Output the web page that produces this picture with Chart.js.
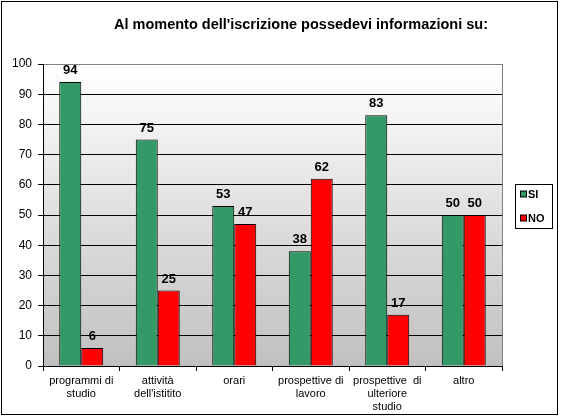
<!DOCTYPE html>
<html>
<head>
<meta charset="utf-8">
<script src="https://cdn.jsdelivr.net/npm/chart.js@4/dist/chart.umd.min.js"></script>
<style>
  html, body { margin: 0; padding: 0; background: #fff; }
  #wrap { width: 561px; height: 416px; position: relative; }
</style>
</head>
<body>
<div id="wrap"><canvas id="chart"></canvas></div>
<script>
const titleText = "Al momento dell'iscrizione possedevi informazioni su:";
const categories = [
  ["programmi di", "studio"],
  ["attività", "dell'istitito"],
  "orari",
  ["prospettive di", "lavoro"],
  ["prospettive  di", "ulteriore", "studio"],
  "altro"
];
const siValues = [94, 75, 53, 38, 83, 50];
const noValues = [6, 25, 47, 62, 17, 50];
const yTicks = [0, 10, 20, 30, 40, 50, 60, 70, 80, 90, 100];

const FONT = "'Liberation Sans', Arial, sans-serif";

// gradient plot background, frame, title, legend box, value labels
const decor = {
  id: "decor",
  beforeDraw(c) {
    const { ctx, chartArea: a } = c;
    ctx.save();
    const g = ctx.createLinearGradient(0, a.top, 0, a.bottom);
    g.addColorStop(0, "#ffffff");
    g.addColorStop(1, "#c0c0c0");
    ctx.fillStyle = g;
    ctx.fillRect(a.left, a.top, a.right - a.left, a.bottom - a.top);
    ctx.strokeStyle = "#808080";
    ctx.lineWidth = 1;
    ctx.beginPath();
    ctx.moveTo(a.right + 0.5, a.top);
    ctx.lineTo(a.right + 0.5, a.bottom);
    ctx.stroke();
    // outer frame
    ctx.strokeStyle = "#000";
    ctx.strokeRect(1.5, 1.5, 556, 413);
    // title
    ctx.fillStyle = "#000";
    ctx.font = "bold 14.5px " + FONT;
    ctx.textAlign = "center";
    ctx.textBaseline = "middle";
    ctx.fillText(titleText, 301, 25);
    ctx.restore();
  },
  afterDraw(c) {
    const { ctx } = c;
    ctx.save();
    ctx.strokeStyle = "#000";
    ctx.lineWidth = 1;
    ctx.strokeRect(515.5, 184.5, 37, 44);
    ctx.font = "bold 11px " + FONT;
    ctx.textAlign = "left";
    ctx.textBaseline = "middle";
    c.data.datasets.forEach((ds, i) => {
      const y = 194 + i * 24;
      ctx.fillStyle = ds.backgroundColor;
      ctx.fillRect(520.5, y - 3, 6, 6);
      ctx.strokeRect(520.5, y - 3, 6, 6);
      ctx.fillStyle = "#000";
      ctx.fillText(ds.label, 528, y + 0.5);
    });
    ctx.restore();
  },
  afterDatasetsDraw(c) {
    const { ctx } = c;
    ctx.save();
    ctx.fillStyle = "#000";
    ctx.font = "bold 13px " + FONT;
    ctx.textAlign = "center";
    ctx.textBaseline = "bottom";
    c.data.datasets.forEach((ds, i) => {
      c.getDatasetMeta(i).data.forEach((bar, j) => {
        ctx.fillText(ds.data[j], bar.x, bar.y - 5);
      });
    });
    ctx.restore();
  }
};

new Chart(document.getElementById("chart").getContext("2d"), {
  type: "bar",
  plugins: [decor],
  data: {
    labels: categories,
    datasets: [
      { label: "SI", data: siValues, backgroundColor: "#339966", borderColor: "#000", borderWidth: 1 },
      { label: "NO", data: noValues, backgroundColor: "#ff0000", borderColor: "#000", borderWidth: 1 }
    ]
  },
  options: {
    responsive: true,
    maintainAspectRatio: false,
    animation: false,
    layout: { padding: { top: 64, right: 59, left: 0, bottom: 0 } },
    plugins: {
      legend: { display: false },
      title: { display: false },
      tooltip: { enabled: false }
    },
    datasets: {
      bar: { categoryPercentage: 0.575, barPercentage: 1 }
    },
    scales: {
      x: {
        offset: true,
        grid: {
          offset: true,
          drawOnChartArea: false,
          color: "#000",
          tickLength: 5
        },
        border: { color: "#000" },
        ticks: {
          color: "#000",
          font: { family: FONT, size: 11 },
          padding: 3,
          maxRotation: 0,
          autoSkip: false
        },
        afterFit(s) { s.height = 50; }
      },
      y: {
        min: 0,
        max: 100,
        afterBuildTicks(s) { s.ticks = yTicks.map(v => ({ value: v })); },
        grid: {
          color: ctx => (ctx.tick && ctx.tick.value === 100 ? "#808080" : "#000"),
          tickColor: "#000",
          tickLength: 5
        },
        border: { color: "#000" },
        ticks: {
          color: "#000",
          font: { family: FONT, size: 12 },
          padding: 6
        },
        afterFit(s) { s.width = 43; }
      }
    }
  }
});
</script>
</body>
</html>
